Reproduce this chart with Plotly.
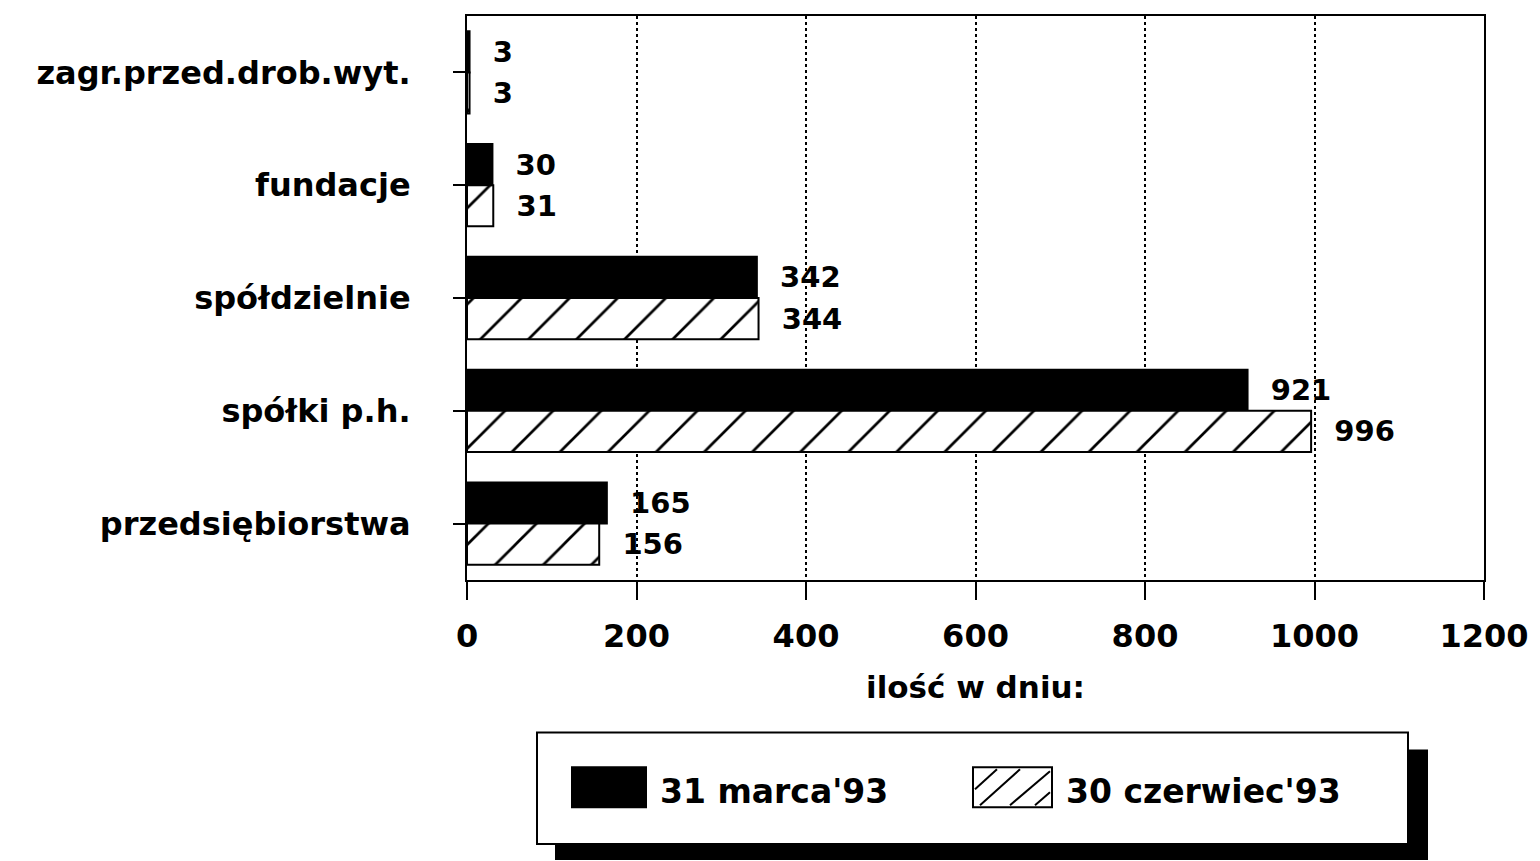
import plotly.graph_objects as go

categories = ["zagr.przed.drob.wyt.", "fundacje", "spółdzielnie", "spółki p.h.", "przedsiębiorstwa"]
march_93 = [3, 30, 342, 921, 165]
june_93 = [3, 31, 344, 996, 156]
series_names = ["31 marca'93", "30 czerwiec'93"]
x_ticks = [0, 200, 400, 600, 800, 1000, 1200]
x_title = "ilość w dniu:"

OFF = 8  # page body margin
W, H = 1540 - OFF, 861 - OFF
L, R, T, B = 467, 1484, 14, 580  # plot area in screen pixels
FONT = "DejaVu Sans"


def px(xp):
    return (xp - L) / (R - L)


def py(yp):
    return (B - yp) / (B - T)


fig = go.Figure()
fig.add_trace(go.Bar(
    y=categories, x=march_93, orientation="h", name=series_names[0],
    marker=dict(color="black", line=dict(color="black", width=2)),
    text=march_93, texttemplate="  %{x}", textposition="outside",
    textfont=dict(family=FONT, size=29, color="black", weight="bold"),
    cliponaxis=False, showlegend=False,
))
fig.add_trace(go.Bar(
    y=categories, x=june_93, orientation="h", name=series_names[1],
    marker=dict(color="white", line=dict(color="black", width=2),
                pattern=dict(shape="/", fgcolor="black", bgcolor="white",
                             size=34, solidity=0.08, fillmode="replace")),
    text=june_93, texttemplate="  %{x}", textposition="outside",
    textfont=dict(family=FONT, size=29, color="black", weight="bold"),
    cliponaxis=False, showlegend=False,
))

shapes = []
# legend shadow and box
shapes.append(dict(type="rect", xref="paper", yref="paper",
                   x0=px(555), x1=px(1428), y0=py(861), y1=py(750),
                   fillcolor="black", line=dict(color="black", width=0), layer="above"))
shapes.append(dict(type="rect", xref="paper", yref="paper",
                   x0=px(537), x1=px(1408), y0=py(845), y1=py(733),
                   fillcolor="white", line=dict(color="black", width=2), layer="above"))
# swatch 1
shapes.append(dict(type="rect", xref="paper", yref="paper",
                   x0=px(572), x1=px(646), y0=py(808), y1=py(768),
                   fillcolor="black", line=dict(color="black", width=2), layer="above"))
# swatch 2
shapes.append(dict(type="rect", xref="paper", yref="paper",
                   x0=px(973), x1=px(1052), y0=py(808), y1=py(768),
                   fillcolor="white", line=dict(color="black", width=2), layer="above"))
for (a, b, c, d) in [(975, 790, 997, 770), (980, 806, 1020, 770), (1010, 806, 1050, 772), (1035, 806, 1050, 793)]:
    shapes.append(dict(type="line", xref="paper", yref="paper",
                       x0=px(a), y0=py(b), x1=px(c), y1=py(d),
                       line=dict(color="black", width=2), layer="above"))

annotations = [
    dict(text=series_names[0], xref="paper", yref="paper", x=px(658), y=py(792),
         xanchor="left", yanchor="middle", showarrow=False,
         font=dict(family=FONT, size=33, color="black", weight="bold")),
    dict(text=series_names[1], xref="paper", yref="paper", x=px(1064), y=py(792),
         xanchor="left", yanchor="middle", showarrow=False,
         font=dict(family=FONT, size=33, color="black", weight="bold")),
]

fig.update_layout(
    width=W, height=H,
    margin=dict(l=L - OFF, r=(W + OFF) - R, t=T - OFF, b=(H + OFF) - B),
    paper_bgcolor="white", plot_bgcolor="white",
    barmode="group", bargap=0.27, bargroupgap=0,
    shapes=shapes, annotations=annotations,
    showlegend=False,
    xaxis=dict(range=[0, 1200], tickvals=x_ticks, ticks="outside", ticklen=18,
               tickwidth=2, tickcolor="black",
               showline=True, linecolor="black", linewidth=2, mirror=True,
               showgrid=True, gridcolor="black", griddash="dot", gridwidth=2,
               zeroline=False,
               tickfont=dict(family=FONT, size=32, color="black", weight="bold"),
               ticklabelstandoff=9,
               title=dict(text=x_title, standoff=22,
                          font=dict(family=FONT, size=31, color="black", weight="bold"))),
    yaxis=dict(categoryorder="array", categoryarray=categories, autorange="reversed",
               ticks="outside", ticklen=12, tickwidth=2, tickcolor="black",
               showline=True, linecolor="black", linewidth=2, mirror=True,
               showgrid=False, ticklabelstandoff=36,
               tickfont=dict(family=FONT, size=32, color="black", weight="bold")),
)

fig.write_html("out.html")
